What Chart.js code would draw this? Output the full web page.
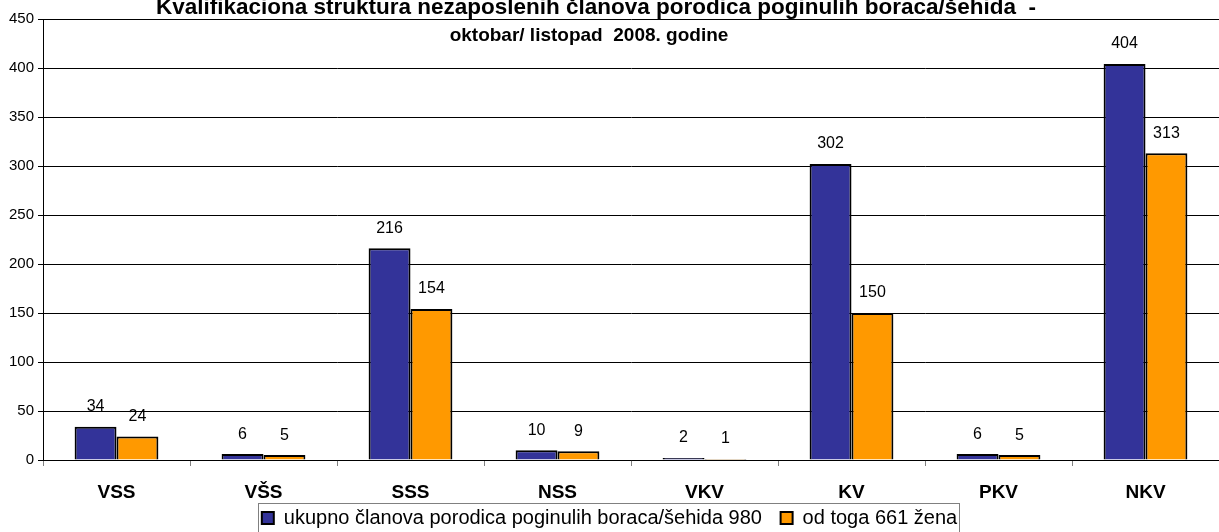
<!DOCTYPE html>
<html>
<head>
<meta charset="utf-8">
<script src="https://cdn.jsdelivr.net/npm/chart.js@4/dist/chart.umd.min.js"></script>
<style>
  html, body { margin: 0; padding: 0; background: #fff; }
  #wrap { width: 1219px; height: 532px; position: relative; }
</style>
</head>
<body>
<div id="wrap"><canvas id="chartCanvas"></canvas></div>
<script>
let categories = ['VSS', 'VŠS', 'SSS', 'NSS', 'VKV', 'KV', 'PKV', 'NKV'];
let ukupnoValues = [34, 6, 216, 10, 2, 302, 6, 404];
let zeneValues = [24, 5, 154, 9, 1, 150, 5, 313];
let seriesNames = ['ukupno članova porodica poginulih boraca/šehida 980', 'od toga 661 žena'];
let titleLines = ['Kvalifikaciona struktura nezaposlenih članova porodica poginulih boraca/šehida  -', 'oktobar/ listopad  2008. godine'];

let fontFamily = 'Arial, "Liberation Sans", sans-serif';

// value labels above the bars + title text drawn over the plot
let labelPlugin = {
    id: 'labelPlugin',
    afterDatasetsDraw: function (chart) {
        let ctx = chart.ctx;
        ctx.save();
        ctx.fillStyle = '#000';
        ctx.font = '16px ' + fontFamily;
        ctx.textAlign = 'center';
        ctx.textBaseline = 'middle';
        chart.data.datasets.forEach(function (ds, i) {
            chart.getDatasetMeta(i).data.forEach(function (bar, j) {
                ctx.fillText(ds.data[j], bar.x, bar.y - 20);
            });
        });
        ctx.restore();
    },
    afterDraw: function (chart) {
        let ctx = chart.ctx;
        ctx.save();
        ctx.fillStyle = '#000';
        ctx.textAlign = 'center';
        ctx.textBaseline = 'middle';
        ctx.font = 'bold 22.5px ' + fontFamily;
        ctx.fillText(titleLines[0], 596, 8);
        ctx.font = 'bold 19px ' + fontFamily;
        ctx.fillText(titleLines[1], 589, 36);

        // box around the legend
        let boxes = chart.legend.legendHitBoxes;
        if (boxes && boxes.length) {
            let first = boxes[0], last = boxes[boxes.length - 1];
            ctx.strokeStyle = '#808080';
            ctx.lineWidth = 1;
            ctx.strokeRect(Math.round(first.left) - 3.5, 503.5, Math.round(last.left + last.width - first.left) + 6, 30);
        }
        ctx.restore();
    }
};

let ctx = document.getElementById('chartCanvas').getContext('2d');
window.barChart = new Chart(ctx, {
    type: 'bar',
    data: {
        labels: categories,
        datasets: [{
            label: seriesNames[0] + '   ',
            data: ukupnoValues,
            backgroundColor: '#333399',
            borderColor: '#000',
            borderWidth: 2
        }, {
            label: seriesNames[1],
            data: zeneValues,
            backgroundColor: '#FF9900',
            borderColor: '#000',
            borderWidth: 2
        }]
    },
    options: {
        responsive: true,
        maintainAspectRatio: false,
        animation: false,
        layout: { padding: { top: 19, right: 0, left: 0, bottom: -6 } },
        datasets: { bar: { categoryPercentage: 0.57, barPercentage: 1 } },
        scales: {
            x: {
                grid: { display: true, offset: true, drawOnChartArea: false, drawTicks: true, tickLength: 6, color: '#808080' },
                border: { color: '#000' },
                ticks: { color: '#000', font: { size: 19, weight: 'bold', family: fontFamily }, padding: 15 },
                afterFit: function (scale) { scale.height = 46; }
            },
            y: {
                min: 0,
                max: 450,
                ticks: { stepSize: 50, color: '#000', font: { size: 15, family: fontFamily }, padding: 4 },
                grid: { color: '#000', tickLength: 5 },
                border: { color: '#000' },
                afterFit: function (scale) { scale.width = 43; }
            }
        },
        plugins: {
            title: { display: false },
            tooltip: { enabled: false },
            legend: {
                position: 'bottom',
                labels: {
                    color: '#000',
                    boxWidth: 12,
                    boxHeight: 12,
                    padding: 2,
                    font: { size: 20, family: fontFamily }
                }
            }
        }
    },
    plugins: [labelPlugin]
});
</script>
</body>
</html>
